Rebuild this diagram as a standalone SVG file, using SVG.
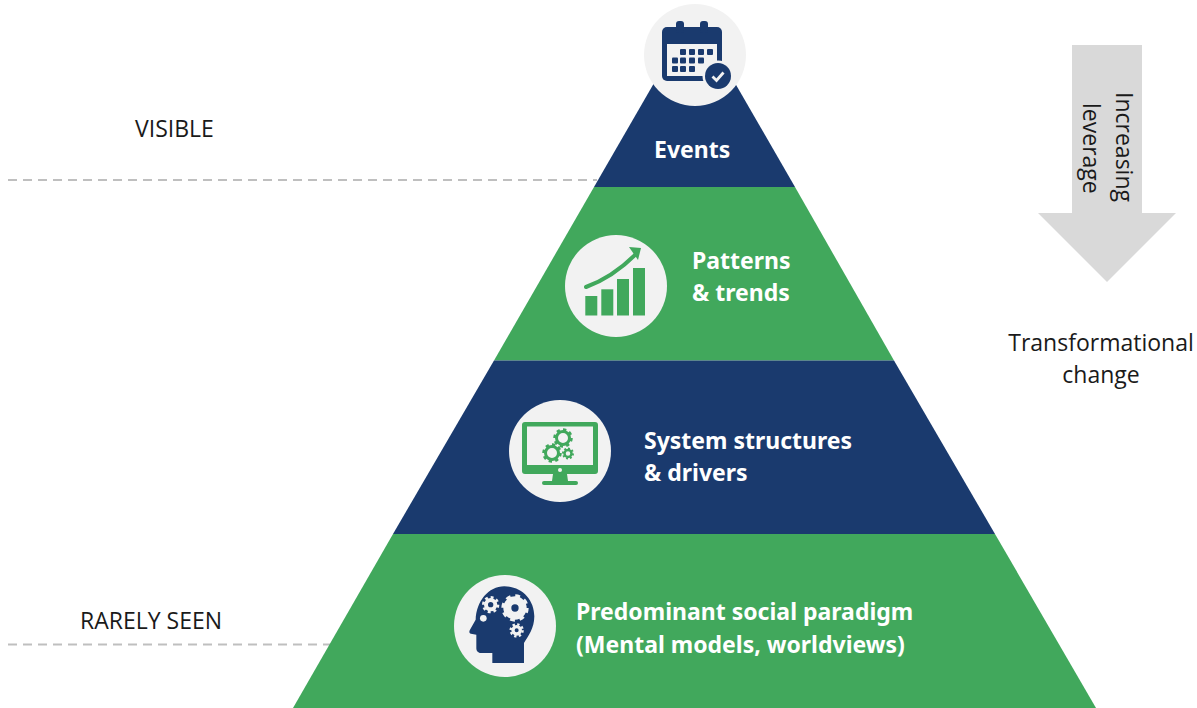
<svg xmlns="http://www.w3.org/2000/svg" width="1197" height="708" viewBox="0 0 1197 708">
<style>
.t{font-family:"Open Sans","Noto Sans",sans-serif;font-size:23px;fill:#1a1a1a}
.b{font-family:"Noto Sans","Open Sans",sans-serif;font-size:23px;font-weight:700;fill:#fff}
.disc{fill:#f2f2f2}
.navy{fill:#1a3a6e}
.green{fill:#41a85c}
.dash{stroke:#bfbfbf;stroke-width:2;stroke-dasharray:9 6;fill:none}
.ring{fill:none}
.teeth{fill:none;stroke-dasharray:1 1}
</style>
<rect width="1197" height="708" fill="#fff"/>
<g id="connectors">
<path class="dash" d="M8 180H597"/>
<path class="dash" d="M8 644.500H332"/>
</g>
<g id="events">
<polygon class="navy" points="694.500,13 795,187 594,187"/>
<text class="b" x="654" y="158">Events</text>
<circle class="disc" cx="695" cy="55" r="51"/>
<rect class="navy" x="662" y="27" width="60" height="54" rx="5"/>
<rect class="navy" x="676" y="21" width="8" height="12" rx="3"/>
<rect class="navy" x="700" y="21" width="8" height="12" rx="3"/>
<rect class="disc" x="667" y="44" width="50" height="32"/>
<g class="navy">
<rect x="680" y="49" width="6" height="6" rx="1"/><rect x="689" y="49" width="6" height="6" rx="1"/><rect x="698" y="49" width="6" height="6" rx="1"/><rect x="707" y="49" width="6" height="6" rx="1"/>
<rect x="672" y="57.500" width="6" height="6" rx="1"/><rect x="680" y="57.500" width="6" height="6" rx="1"/><rect x="689" y="57.500" width="6" height="6" rx="1"/><rect x="698" y="57.500" width="6" height="6" rx="1"/>
<rect x="672" y="66" width="6" height="6" rx="1"/><rect x="680" y="66" width="6" height="6" rx="1"/><rect x="689" y="66" width="6" height="6" rx="1"/>
</g>
<circle cx="718" cy="76" r="15.500" fill="#f2f2f2"/>
<circle class="navy" cx="718" cy="76" r="13"/>
<path d="M712.500 76.500l4 4 7-8" fill="none" stroke="#f2f2f2" stroke-width="2.800"/>
</g>
<g id="patterns">
<polygon class="green" points="594,187 795,187 894,360.500 494,360.500"/>
<text class="b" x="692" y="269">Patterns</text>
<text class="b" x="692" y="301">&amp; trends</text>
<circle class="disc" cx="616" cy="286" r="51"/>
<g class="green">
<rect x="585.300" y="296" width="12" height="19.500"/>
<rect x="601.300" y="289.300" width="12" height="26.200"/>
<rect x="617" y="279" width="12" height="36.500"/>
<rect x="633" y="268" width="12" height="47.500"/>
<polygon points="629,247 641,248 638,260"/>
</g>
<path d="M586 287C605 280 622 268 636 254" fill="none" stroke="#41a85c" stroke-width="4" stroke-linecap="round"/>
</g>
<g id="structures">
<polygon class="navy" points="494,360.500 894,360.500 995,534 393,534"/>
<text class="b" x="644" y="449">System structures</text>
<text class="b" x="644" y="481">&amp; drivers</text>
<circle class="disc" cx="560" cy="451" r="51"/>
<g class="green">
<path fill-rule="evenodd" d="M525 422H595a3 3 0 0 1 3 3V471a3 3 0 0 1-3 3H525a3 3 0 0 1-3-3V425a3 3 0 0 1 3-3ZM527 426.500V465H593V426.500Z"/>
<path d="M553 474H567L568 481H552Z"/>
<rect x="542" y="481" width="36" height="4" rx="2"/>
</g>
<circle cx="560" cy="470" r="2" fill="#f2f2f2"/>
<g stroke="#41a85c">
<circle class="ring" cx="563" cy="438" r="6.500" stroke-width="3"/>
<circle class="teeth" cx="563" cy="438" r="8.500" stroke-width="2.500" pathLength="16"/>
<circle class="ring" cx="552" cy="453" r="6.500" stroke-width="3"/>
<circle class="teeth" cx="552" cy="453" r="8.500" stroke-width="2.500" pathLength="16"/>
<circle class="ring" cx="568" cy="453.500" r="3.500" stroke-width="2.500"/>
<circle class="teeth" cx="568" cy="453.500" r="5" stroke-width="2" pathLength="16"/>
</g>
</g>
<g id="paradigm">
<polygon class="green" points="393,534 995,534 1096,708 293,708"/>
<text class="b" x="576" y="620">Predominant social paradigm</text>
<text class="b" x="576" y="653">(Mental models, worldviews)</text>
<circle class="disc" cx="505" cy="626" r="51"/>
<g transform="translate(445 568) scale(.3333)">
<path class="navy" d="M237 285H142V255H108C98 255 94 248 94 240V200L78 197C72 195 72 190 75 185L92 155C94 100 130 55 178 55C230 55 268 95 268 145C268 180 250 205 237 225Z"/>
<circle cx="115" cy="151" r="10" fill="#f2f2f2"/>
<g stroke="#f2f2f2">
<circle class="ring" cx="137" cy="110" r="14" stroke-width="12"/>
<circle class="teeth" cx="137" cy="110" r="22" stroke-width="8" pathLength="16"/>
<circle cx="210" cy="120" r="23" fill="none" stroke-width="24"/>
<circle class="teeth" cx="210" cy="120" r="36" stroke-width="10" pathLength="16"/>
<circle class="ring" cx="215" cy="187" r="11" stroke-width="10"/>
<circle class="teeth" cx="215" cy="187" r="18" stroke-width="7" pathLength="16"/>
</g>
</g>
</g>
<g id="visible"><text class="t" x="135" y="137">VISIBLE</text></g>
<g id="rarely-seen"><text class="t" x="80" y="629">RARELY SEEN</text></g>
<g id="leverage-arrow">
<polygon points="1072,45 1142,45 1142,213 1176,213 1107,282 1038,213 1072,213" fill="#d9d9d9"/>
<text class="t" transform="translate(1116 92) rotate(90)">Increasing</text>
<text class="t" transform="translate(1083 103) rotate(90)">leverage</text>
</g>
<g id="transformational">
<text class="t" x="1101" y="351" text-anchor="middle">Transformational</text>
<text class="t" x="1101" y="383" text-anchor="middle">change</text>
</g>
</svg>
